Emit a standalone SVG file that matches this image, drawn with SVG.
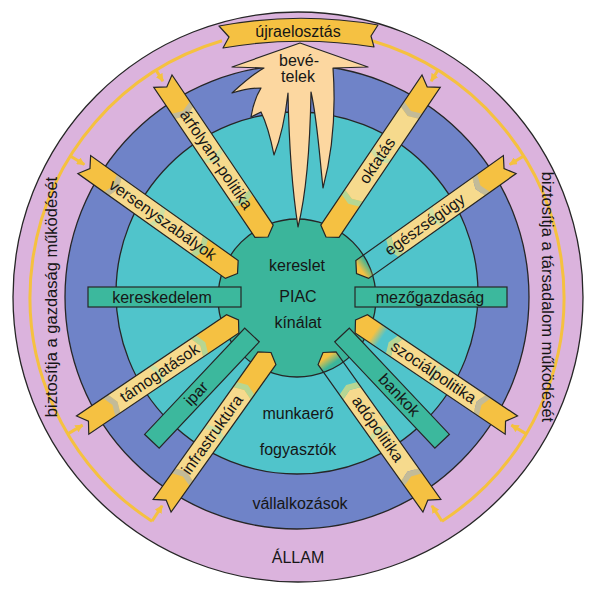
<svg xmlns="http://www.w3.org/2000/svg" xmlns:xlink="http://www.w3.org/1999/xlink" width="592" height="592" viewBox="0 0 592 592">
<style>
text{font-family:"Liberation Sans",Arial,sans-serif;font-size:16px;fill:#161616}
.c{text-anchor:middle}
.ring{stroke:#262626;stroke-width:1.3}
.yb{fill:#f5c142}
.ol{fill:none;stroke:#262626;stroke-width:1.2}
.pale{fill:#f6da8d}
.bgn{fill:#b6d693}
.bmd{fill:#cfe0a2}
.bgy{fill:#c3bb98}
.tb{fill:#3cb89d;stroke:#262626;stroke-width:1.2}
.yl{fill:none;stroke:#f5c13f;stroke-width:3}
.tk{fill:none;stroke:#f5c13f;stroke-width:3;marker-end:url(#ar)}
</style>
<defs>
<marker id="ar" viewBox="0 0 10 10" refX="9" refY="5" markerWidth="8" markerHeight="8" markerUnits="userSpaceOnUse" orient="auto"><path d="M0,0 L10,5 L0,10 Z" fill="#f5c13f"/></marker>
<path id="ybar" d="M0,0 L7,-11 L188,-11 L181,0 L188,11 L7,11 Z"/>
<g id="ydeco">
<path class="pale" d="M50,-11 L46,0 L50,11 L150,11 L146,0 L150,-11 Z"/>
<path class="bgn" d="M44,-11 L40,0 L44,11 L50,11 L46,0 L50,-11 Z"/>
<path class="bmd" d="M96,-11 L92,0 L96,11 L101,11 L97,0 L101,-11 Z"/>
<path class="bgy" d="M150,-11 L146,0 L150,11 L156,11 L152,0 L156,-11 Z"/>
</g>
<linearGradient id="gE" gradientUnits="userSpaceOnUse" x1="0" y1="0" x2="188" y2="0">
<stop offset="0" stop-color="#f5c142"/><stop offset="0.03" stop-color="#f5c142"/><stop offset="0.08" stop-color="#f5c142" stop-opacity="0"/><stop offset="0.79" stop-color="#f5c142" stop-opacity="0"/><stop offset="0.79" stop-color="#f5c142"/><stop offset="1" stop-color="#f5c142"/>
</linearGradient>
<linearGradient id="gS" gradientUnits="userSpaceOnUse" x1="0" y1="0" x2="188" y2="0">
<stop offset="0" stop-color="#f5c142"/><stop offset="0.12" stop-color="#f5c142"/><stop offset="0.17" stop-color="#f5c142" stop-opacity="0"/><stop offset="0.79" stop-color="#f5c142" stop-opacity="0"/><stop offset="0.79" stop-color="#f5c142"/><stop offset="1" stop-color="#f5c142"/>
</linearGradient>
</defs>
<rect width="592" height="592" fill="#ffffff"/>

<g id="rings">
<circle class="ring" cx="298" cy="297" r="285" fill="#dbb3dd"/>
<circle class="ring" cx="297" cy="297" r="232" fill="#6f83c8"/>
<circle class="ring" cx="297" cy="293" r="181" fill="#50c4cb"/>
<circle class="ring" cx="297" cy="298" r="79" fill="#3bb59b"/>
</g>

<g id="connectors">
<path class="yl" d="M222,40.8 A267,267 0 0 0 152,521.2"/>
<path class="yl" d="M372,40.8 A267,267 0 0 1 442,521.2"/>
<path class="tk" d="M156.1,70.2 L162.9,81.1"/>
<path class="tk" d="M70.3,155.9 L84.3,164.6"/>
<path class="tk" d="M67.8,433.9 L82.6,425.1"/>
<path class="tk" d="M152,521.2 L162.1,505.7"/>
<path class="tk" d="M437.9,70.2 L431.1,81.1"/>
<path class="tk" d="M523.7,155.9 L509.7,164.6"/>
<path class="tk" d="M526.3,433.9 L511.4,425.1"/>
<path class="tk" d="M442,521.2 L431.9,505.7"/>
</g>

<g id="n-bevetelek">
<path d="M300,43 L368,67 L333,68 C336,110 333,150 323,188 C319,150 317,118 311,92 C310,150 306,195 298,227 C293,195 289,145 288,93 C285,120 280,140 274,155 C271,140 267,124 261,112 L251,117 C253,104 256,96 261,88 C252,88 242,90 232,93 C243,83 253,74 264,68 L232,67 Z" fill="#fcd7a0" stroke="#262626" stroke-width="1.2" stroke-linejoin="round"/>
<text class="c" x="299" y="66">bevé-</text>
<text class="c" x="298" y="82">telek</text>
</g>

<g id="n-ipar" transform="translate(252,335) rotate(133.3)">
<rect x="0" y="-10" width="146" height="20" class="tb"/>
<text class="c" transform="translate(81,0) rotate(180)" y="5">ipar</text>
</g>
<g id="n-bankok" transform="translate(342,335) rotate(46.7)">
<rect x="0" y="-10" width="146" height="20" class="tb"/>
<text class="c" transform="translate(83,0)" y="5">bankok</text>
</g>

<g id="n-kereskedelem">
<rect x="88" y="287" width="153" height="20" class="tb"/>
<text class="c" x="162" y="302.5">kereskedelem</text>
</g>
<g id="n-mezogazdasag">
<rect x="355" y="287" width="152" height="20" class="tb"/>
<text class="c" x="430" y="302.5">mezőgazdaság</text>
</g>

<g id="n-arfolyam" transform="translate(268,237) rotate(-124)">
<use href="#ybar" class="yb"/><use href="#ydeco"/><use href="#ybar" class="ol"/>
<text class="c" transform="translate(93,0) rotate(180)" y="5">árfolyam-politika</text>
</g>
<g id="n-oktatas" transform="translate(326,237) rotate(-56)">
<use href="#ybar" class="yb"/><use href="#ydeco"/><use href="#ybar" class="ol"/>
<text class="c" transform="translate(92,0)" y="5">oktatás</text>
</g>
<g id="n-verseny" transform="translate(237.5,273.5) rotate(-144.6)">
<use href="#ybar" class="yb"/><use href="#ydeco"/><use href="#ybar" class="ol"/>
<text class="c" transform="translate(92,0) rotate(180)" y="5">versenyszabályok</text>
</g>
<g id="n-egeszseg" transform="translate(356.5,273.5) rotate(-35.4)">
<use href="#ybar" fill="url(#gE)"/><use href="#ydeco"/><use href="#ybar" class="ol"/>
<text class="c" transform="translate(84,0)" y="5">egészségügy</text>
</g>
<g id="n-tamogatas" transform="translate(238.5,320) rotate(146)">
<use href="#ybar" class="yb"/><use href="#ydeco"/><use href="#ybar" class="ol"/>
<text class="c" transform="translate(95,0) rotate(180)" y="5">támogatások</text>
</g>
<g id="n-szocial" transform="translate(355.5,320) rotate(34)">
<use href="#ybar" fill="url(#gS)"/><use href="#ydeco"/><use href="#ybar" class="ol"/>
<text class="c" transform="translate(94,0)" y="5">szociálpolitika</text>
</g>
<g id="n-infra" transform="translate(271,352.5) rotate(125.4)">
<use href="#ybar" class="yb"/><use href="#ydeco"/><use href="#ybar" class="ol"/>
<text class="c" transform="translate(101,0) rotate(180)" y="5">infrastruktúra</text>
</g>
<g id="n-ado" transform="translate(323,352.5) rotate(54.6)">
<use href="#ybar" fill="url(#gE)"/><use href="#ydeco"/><use href="#ybar" class="ol"/>
<text class="c" transform="translate(94,0)" y="5">adópolitika</text>
</g>

<g id="n-ujraelosztas">
<path d="M219,26 Q298,11 378,25 L371,36 L374,47 Q298,35 223,48 L229,37 Z" fill="#f5c142" stroke="#262626" stroke-width="1.2" stroke-linejoin="round"/>
<text class="c" x="298" y="37">újraelosztás</text>
</g>

<g id="n-piac">
<text class="c" x="297" y="271">kereslet</text>
<text class="c" x="298" y="302">PIAC</text>
<text class="c" x="298" y="328">kínálat</text>
</g>
<g id="n-teal-ring">
<text class="c" x="298" y="419">munkaerő</text>
<text class="c" x="298" y="455">fogyasztók</text>
</g>
<g id="n-blue-ring">
<text class="c" x="300" y="509">vállalkozások</text>
</g>
<g id="n-allam">
<text class="c" x="298" y="563">ÁLLAM</text>
<text class="c" transform="translate(51,297) rotate(-90)" y="6" style="font-size:16.5px">biztosítja a gazdaság működését</text>
<text class="c" transform="translate(548,297) rotate(90)" y="6" style="font-size:16.5px">biztosítja a társadalom működését</text>
</g>
</svg>
